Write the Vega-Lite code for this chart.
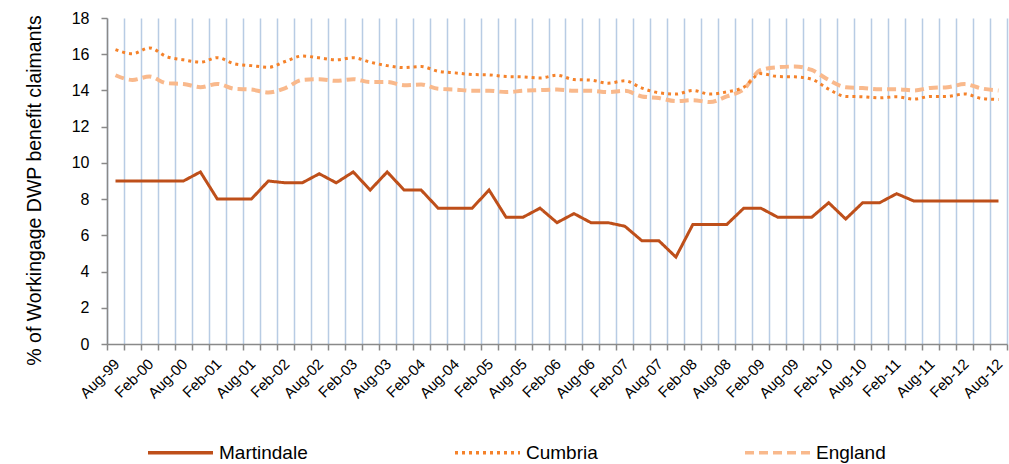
{
  "$schema": "https://vega.github.io/schema/vega-lite/v6.json",
  "width": 900,
  "height": 326,
  "autosize": {"type": "none"},
  "padding": {"left": 107, "top": 18, "right": 2, "bottom": 120},
  "config": {
    "font": "Liberation Sans",
    "view": {"stroke": null}
  },
  "data": {
    "values": [
      {"q": "Aug-99", "Martindale": 9.0, "Cumbria": 16.25, "England": 14.84},
      {"q": "Nov-99", "Martindale": 9.0, "Cumbria": 16.03, "England": 14.58},
      {"q": "Feb-00", "Martindale": 9.0, "Cumbria": 16.35, "England": 14.77},
      {"q": "May-00", "Martindale": 9.0, "Cumbria": 15.87, "England": 14.40},
      {"q": "Aug-00", "Martindale": 9.0, "Cumbria": 15.69, "England": 14.36},
      {"q": "Nov-00", "Martindale": 9.5, "Cumbria": 15.56, "England": 14.18},
      {"q": "Feb-01", "Martindale": 8.0, "Cumbria": 15.81, "England": 14.36},
      {"q": "May-01", "Martindale": 8.0, "Cumbria": 15.47, "England": 14.09},
      {"q": "Aug-01", "Martindale": 8.0, "Cumbria": 15.37, "England": 14.05},
      {"q": "Nov-01", "Martindale": 9.0, "Cumbria": 15.28, "England": 13.89},
      {"q": "Feb-02", "Martindale": 8.9, "Cumbria": 15.60, "England": 14.13},
      {"q": "May-02", "Martindale": 8.9, "Cumbria": 15.90, "England": 14.58},
      {"q": "Aug-02", "Martindale": 9.4, "Cumbria": 15.80, "England": 14.62},
      {"q": "Nov-02", "Martindale": 8.9, "Cumbria": 15.69, "England": 14.53},
      {"q": "Feb-03", "Martindale": 9.5, "Cumbria": 15.81, "England": 14.62},
      {"q": "May-03", "Martindale": 8.5, "Cumbria": 15.56, "England": 14.47},
      {"q": "Aug-03", "Martindale": 9.5, "Cumbria": 15.37, "England": 14.47},
      {"q": "Nov-03", "Martindale": 8.5, "Cumbria": 15.26, "England": 14.29},
      {"q": "Feb-04", "Martindale": 8.5, "Cumbria": 15.32, "England": 14.33},
      {"q": "May-04", "Martindale": 7.5, "Cumbria": 15.06, "England": 14.09},
      {"q": "Aug-04", "Martindale": 7.5, "Cumbria": 14.97, "England": 14.05},
      {"q": "Nov-04", "Martindale": 7.5, "Cumbria": 14.88, "England": 13.98},
      {"q": "Feb-05", "Martindale": 8.5, "Cumbria": 14.86, "England": 13.98},
      {"q": "May-05", "Martindale": 7.0, "Cumbria": 14.77, "England": 13.91},
      {"q": "Aug-05", "Martindale": 7.0, "Cumbria": 14.75, "England": 13.98},
      {"q": "Nov-05", "Martindale": 7.5, "Cumbria": 14.69, "England": 14.02},
      {"q": "Feb-06", "Martindale": 6.7, "Cumbria": 14.84, "England": 14.05},
      {"q": "May-06", "Martindale": 7.2, "Cumbria": 14.60, "England": 13.98},
      {"q": "Aug-06", "Martindale": 6.7, "Cumbria": 14.57, "England": 13.98},
      {"q": "Nov-06", "Martindale": 6.7, "Cumbria": 14.40, "England": 13.91},
      {"q": "Feb-07", "Martindale": 6.5, "Cumbria": 14.53, "England": 13.98},
      {"q": "May-07", "Martindale": 5.7, "Cumbria": 14.13, "England": 13.67},
      {"q": "Aug-07", "Martindale": 5.7, "Cumbria": 13.87, "England": 13.58},
      {"q": "Nov-07", "Martindale": 4.8, "Cumbria": 13.80, "England": 13.41},
      {"q": "Feb-08", "Martindale": 6.6, "Cumbria": 14.00, "England": 13.46},
      {"q": "May-08", "Martindale": 6.6, "Cumbria": 13.80, "England": 13.36},
      {"q": "Aug-08", "Martindale": 6.6, "Cumbria": 13.92, "England": 13.67},
      {"q": "Nov-08", "Martindale": 7.5, "Cumbria": 14.18, "England": 14.07},
      {"q": "Feb-09", "Martindale": 7.5, "Cumbria": 14.93, "England": 15.13},
      {"q": "May-09", "Martindale": 7.0, "Cumbria": 14.77, "England": 15.28},
      {"q": "Aug-09", "Martindale": 7.0, "Cumbria": 14.75, "England": 15.32},
      {"q": "Nov-09", "Martindale": 7.0, "Cumbria": 14.62, "England": 15.13},
      {"q": "Feb-10", "Martindale": 7.8, "Cumbria": 14.07, "England": 14.58},
      {"q": "May-10", "Martindale": 6.9, "Cumbria": 13.67, "England": 14.18},
      {"q": "Aug-10", "Martindale": 7.8, "Cumbria": 13.65, "England": 14.13},
      {"q": "Nov-10", "Martindale": 7.8, "Cumbria": 13.59, "England": 14.07},
      {"q": "Feb-11", "Martindale": 8.3, "Cumbria": 13.65, "England": 14.07},
      {"q": "May-11", "Martindale": 7.9, "Cumbria": 13.52, "England": 14.00},
      {"q": "Aug-11", "Martindale": 7.9, "Cumbria": 13.67, "England": 14.14},
      {"q": "Nov-11", "Martindale": 7.9, "Cumbria": 13.67, "England": 14.18},
      {"q": "Feb-12", "Martindale": 7.9, "Cumbria": 13.81, "England": 14.35},
      {"q": "May-12", "Martindale": 7.9, "Cumbria": 13.56, "England": 14.11},
      {"q": "Aug-12", "Martindale": 7.9, "Cumbria": 13.50, "England": 14.00}
    ]
  },
  "transform": [{"fold": ["Martindale", "Cumbria", "England"], "as": ["series", "value"]}],
  "encoding": {
    "y": {
      "field": "value",
      "type": "quantitative",
      "scale": {"domain": [0, 18], "nice": false},
      "axis": {
        "title": "% of Workingage DWP benefit claimants",
        "titleFontSize": 19.5,
        "titleFontWeight": "normal",
        "titleColor": "#000000",
        "titlePadding": 27,
        "titleY": 172,
        "values": [0, 2, 4, 6, 8, 10, 12, 14, 16, 18],
        "grid": false,
        "domainColor": "#898989",
        "domainWidth": 1.5,
        "tickColor": "#898989",
        "tickWidth": 1.5,
        "tickSize": 6,
        "labelFontSize": 16,
        "labelPadding": 12,
        "labelColor": "#000000"
      }
    }
  },
  "layer": [
    {
      "transform": [{"filter": "datum.series === 'Martindale'"}],
      "mark": {"type": "bar", "opacity": 0},
      "encoding": {
        "x": {
          "field": "q",
          "type": "ordinal",
          "sort": null,
          "scale": {"type": "band", "paddingInner": 0, "paddingOuter": 0},
          "axis": {
            "orient": "bottom",
            "title": null,
            "tickBand": "extent",
            "grid": true,
            "gridColor": "#B8CCE4",
            "gridWidth": 1.5,
            "domainColor": "#898989",
            "domainWidth": 1.5,
            "tickColor": "#898989",
            "tickWidth": 1.5,
            "tickSize": 6,
            "labels": false
          }
        }
      }
    },
    {
      "encoding": {
        "x": {
          "field": "q",
          "type": "ordinal",
          "sort": null,
          "scale": {"type": "point", "padding": 0.5},
          "axis": {
            "orient": "bottom",
            "title": null,
            "grid": false,
            "domain": false,
            "ticks": false,
            "labelAngle": -45,
            "labelAlign": "right",
            "labelBaseline": "top",
            "labelOffset": -4,
            "labelPadding": 12,
            "labelFontSize": 15,
            "labelColor": "#000000",
            "labelOverlap": false,
            "labelBound": false,
            "labelExpr": "indexof(['Aug','Feb'], slice(datum.value, 0, 3)) >= 0 ? datum.value : ''"
          }
        },
        "color": {
          "field": "series",
          "type": "nominal",
          "scale": {"domain": ["Martindale", "Cumbria", "England"], "range": ["#BE4F1A", "#F5822A", "#F9B98C"]},
          "legend": {
            "orient": "none", "legendX": 39, "legendY": 400, "direction": "horizontal", "title": null,
            "symbolType": "stroke", "symbolSize": 4225, "symbolStrokeWidth": 3.5,
            "labelFontSize": 19, "labelOffset": 4, "labelColor": "#000000",
            "columnPadding": 140, "gridAlign": "each", "padding": 0
          }
        },
        "strokeDash": {
          "field": "series",
          "type": "nominal",
          "scale": {"domain": ["Martindale", "Cumbria", "England"], "range": [[1, 0], [3, 4], [9, 5]]},
          "legend": {
            "orient": "none", "legendX": 39, "legendY": 400, "direction": "horizontal", "title": null,
            "symbolType": "stroke", "symbolSize": 4225, "symbolStrokeWidth": 3.5,
            "labelFontSize": 19, "labelOffset": 4, "labelColor": "#000000",
            "columnPadding": 140, "gridAlign": "each", "padding": 0
          }
        }
      },
      "layer": [
        {"transform": [{"filter": "datum.series === 'England'"}], "mark": {"type": "line", "interpolate": "monotone", "strokeWidth": 4}},
        {"transform": [{"filter": "datum.series === 'Cumbria'"}], "mark": {"type": "line", "interpolate": "monotone", "strokeWidth": 3}},
        {"transform": [{"filter": "datum.series === 'Martindale'"}], "mark": {"type": "line", "interpolate": "linear", "strokeWidth": 3}}
      ]
    }
  ],
  "resolve": {"scale": {"x": "independent"}, "axis": {"x": "independent"}}
}
